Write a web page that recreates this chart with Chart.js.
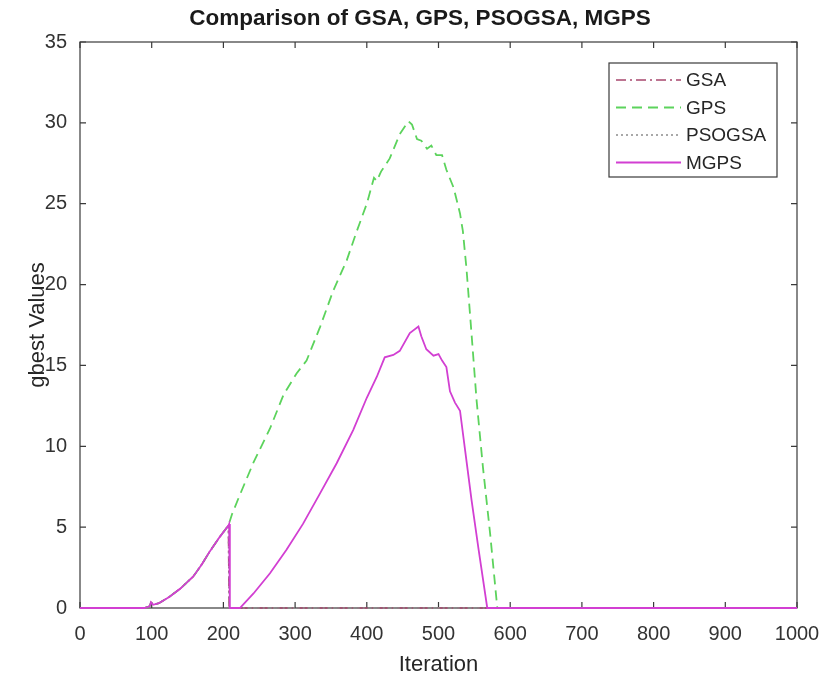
<!DOCTYPE html>
<html>
<head>
<meta charset="utf-8">
<script src="https://cdn.jsdelivr.net/npm/chart.js@4.4.1/dist/chart.umd.min.js"></script>
<style>
  html, body { margin: 0; padding: 0; background: #fff; }
</style>
</head>
<body>
<canvas id="chart" width="824" height="682"></canvas>
<script>
// series names (legend order)
const seriesNames = ['GSA', 'GPS', 'PSOGSA', 'MGPS'];

// tick labels of the axes
const xTicks = [0, 100, 200, 300, 400, 500, 600, 700, 800, 900, 1000];
const yTicks = [0, 5, 10, 15, 20, 25, 30, 35];

// GSA : follows the common start, then falls back to 0
const gsaIter = [0, 90, 97, 99, 102, 110, 125, 140, 158, 170, 181, 195, 207, 208, 1000];
const gsaVal  = [0, 0, 0.1, 0.35, 0.2, 0.3, 0.7, 1.2, 1.95, 2.7, 3.5, 4.4, 5.1, 0, 0];

// PSOGSA : same shape as GSA
const psogsaIter = [0, 90, 97, 99, 102, 110, 125, 140, 158, 170, 181, 195, 207, 208, 1000];
const psogsaVal  = [0, 0, 0.1, 0.35, 0.2, 0.3, 0.7, 1.2, 1.95, 2.7, 3.5, 4.4, 5.1, 0, 0];

// GPS
const gpsIter = [0, 90, 97, 99, 102, 110, 125, 140, 158, 170, 181, 195, 207, 212, 223, 242, 265, 284, 302, 316,
                 335, 353, 372, 386, 400, 405, 410, 414, 420, 432, 446, 458, 463, 470, 476, 484, 490, 497, 505,
                 511, 521, 530, 534, 539, 546, 553, 562, 572, 582, 1000];
const gpsVal  = [0, 0, 0.1, 0.35, 0.2, 0.3, 0.7, 1.2, 1.95, 2.7, 3.5, 4.4, 5.1, 5.8, 7.0, 9.0, 11.1, 13.2, 14.5, 15.3,
                 17.4, 19.6, 21.5, 23.3, 25.0, 25.8, 26.6, 26.4, 27.0, 27.8, 29.3, 30.1, 29.9, 29.0, 28.9, 28.4, 28.6, 28.0, 28.0,
                 27.1, 26.0, 24.4, 23.3, 21.0, 17.0, 12.9, 8.7, 4.6, 0, 0];

// MGPS
const mgpsIter = [0, 90, 97, 99, 102, 110, 125, 140, 158, 170, 181, 195, 207, 208, 209, 223, 242, 265, 288, 311,
                  335, 358, 381, 400, 414, 425, 437, 446, 460, 472, 476, 483, 493, 500, 505, 511, 516, 523, 530,
                  537, 546, 556, 568, 1000];
const mgpsVal  = [0, 0, 0.1, 0.35, 0.2, 0.3, 0.7, 1.2, 1.95, 2.7, 3.5, 4.4, 5.1, 5.2, 0, 0, 0.9, 2.15, 3.6, 5.2,
                  7.1, 8.95, 11.0, 13.0, 14.3, 15.5, 15.65, 15.9, 17.0, 17.4, 16.8, 16.0, 15.6, 15.7, 15.3, 14.9, 13.4, 12.7, 12.2,
                  9.8, 6.7, 3.6, 0, 0];

const FONT = "'Liberation Sans', Arial, Helvetica, sans-serif";
const AXIS_COLOR = '#3a3a3a';

function toPoints(iters, vals) {
  return iters.map((x, i) => ({ x: x, y: vals[i] }));
}

// frame + inward ticks (matlab style), drawn before the lines
const matlabFrame = {
  id: 'matlabFrame',
  beforeDatasetsDraw(chart) {
    const { ctx, chartArea: a, scales } = chart;
    const tl = 6;
    ctx.save();
    ctx.strokeStyle = AXIS_COLOR;
    ctx.lineWidth = 1.2;
    ctx.strokeRect(a.left, a.top, a.right - a.left, a.bottom - a.top);
    ctx.beginPath();
    xTicks.forEach(v => {
      const px = scales.x.getPixelForValue(v);
      ctx.moveTo(px, a.bottom); ctx.lineTo(px, a.bottom - tl);
      ctx.moveTo(px, a.top); ctx.lineTo(px, a.top + tl);
    });
    yTicks.forEach(v => {
      const py = scales.y.getPixelForValue(v);
      ctx.moveTo(a.left, py); ctx.lineTo(a.left + tl, py);
      ctx.moveTo(a.right, py); ctx.lineTo(a.right - tl, py);
    });
    ctx.stroke();
    ctx.restore();
  },
  // legend box inside the axes, top right
  afterDraw(chart) {
    const { ctx, chartArea: a } = chart;
    const boxW = 168, boxH = 114;
    const bx = a.right - 20 - boxW, by = a.top + 21;
    ctx.save();
    ctx.fillStyle = '#fff';
    ctx.fillRect(bx, by, boxW, boxH);
    ctx.strokeStyle = AXIS_COLOR;
    ctx.lineWidth = 1.2;
    ctx.strokeRect(bx, by, boxW, boxH);
    ctx.font = '19px ' + FONT;
    ctx.textBaseline = 'middle';
    chart.data.datasets.forEach((ds, i) => {
      const yy = by + 17 + i * 27.5;
      ctx.strokeStyle = ds.borderColor;
      ctx.lineWidth = ds.borderWidth;
      ctx.setLineDash(ds.borderDash || []);
      ctx.beginPath();
      ctx.moveTo(bx + 7, yy); ctx.lineTo(bx + 72, yy);
      ctx.stroke();
      ctx.setLineDash([]);
      ctx.fillStyle = '#262626';
      ctx.fillText(ds.label, bx + 77, yy + 1);
    });
    ctx.restore();
  }
};

const ctx = document.getElementById('chart').getContext('2d');
new Chart(ctx, {
  type: 'line',
  data: {
    datasets: [
      { label: seriesNames[0], data: toPoints(gsaIter, gsaVal), borderColor: '#a8476e', borderDash: [10, 4, 2, 4], borderWidth: 1.6, order: 3, clip: 4 },
      { label: seriesNames[1], data: toPoints(gpsIter, gpsVal), borderColor: '#5cd35c', borderDash: [10, 6], borderWidth: 1.8, order: 2, clip: 4 },
      { label: seriesNames[2], data: toPoints(psogsaIter, psogsaVal), borderColor: '#8c8c8c', borderDash: [2, 3], borderWidth: 1.6, order: 1, clip: 4 },
      { label: seriesNames[3], data: toPoints(mgpsIter, mgpsVal), borderColor: '#d23fd2', borderWidth: 1.8, order: 0, clip: 4 }
    ]
  },
  options: {
    responsive: false,
    animation: false,
    elements: { point: { radius: 0 }, line: { tension: 0 } },
    layout: { padding: { left: 16, right: 0, top: 0, bottom: 0 } },
    plugins: {
      legend: { display: false },
      tooltip: { enabled: false },
      title: {
        display: true,
        text: 'Comparison of GSA, GPS, PSOGSA, MGPS',
        color: '#1a1a1a',
        font: { family: FONT, size: 22.5, weight: 'bold' },
        padding: { top: 5, bottom: 10 }
      }
    },
    scales: {
      x: {
        type: 'linear',
        min: 0,
        max: 1000,
        afterBuildTicks: s => { s.ticks = xTicks.map(v => ({ value: v })); },
        afterFit: s => { s.height = 74; s.paddingLeft = 0; s.paddingRight = 0; },
        grid: { display: false, drawTicks: false },
        border: { display: false },
        ticks: { color: '#333', padding: 14, maxRotation: 0, callback: v => String(v), font: { family: FONT, size: 20 } },
        title: { display: true, text: 'Iteration', color: '#262626', padding: { top: 0, bottom: 4 }, font: { family: FONT, size: 22 } }
      },
      y: {
        min: 0,
        max: 35,
        afterBuildTicks: s => { s.ticks = yTicks.map(v => ({ value: v })); },
        afterFit: s => { s.width = 64; },
        grid: { display: false, drawTicks: false },
        border: { display: false },
        ticks: { color: '#333', padding: 13, font: { family: FONT, size: 20 } },
        title: { display: true, text: 'gbest Values', color: '#262626', padding: { top: 9, bottom: 0 }, font: { family: FONT, size: 22 } }
      },
      // empty right axis, only to keep the right margin
      yRight: {
        position: 'right',
        min: 0,
        max: 35,
        afterFit: s => { s.width = 27; },
        grid: { display: false, drawTicks: false },
        border: { display: false },
        ticks: { display: false }
      }
    }
  },
  plugins: [matlabFrame]
});
</script>
</body>
</html>
